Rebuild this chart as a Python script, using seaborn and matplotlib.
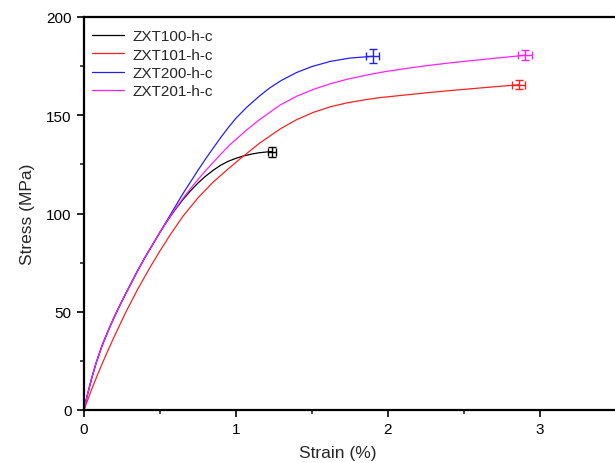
import numpy as np
import pandas as pd
import matplotlib
matplotlib.use("Agg")
import matplotlib.pyplot as plt
from matplotlib.ticker import MultipleLocator
import seaborn as sns

# Stress-strain curves (strain in %, stress in MPa)
zxt100_strain = [0, 0.02, 0.05, 0.08, 0.12, 0.16, 0.2, 0.25, 0.3, 0.35, 0.4, 0.45, 0.5, 0.55,
                 0.6, 0.65, 0.7, 0.75, 0.8, 0.85, 0.9, 0.95, 1.0, 1.05, 1.1, 1.15, 1.2, 1.235]
zxt100_stress = [0, 7, 16, 24, 33, 40.5, 47.5, 55.5, 63, 70.5, 77.5, 84, 90.5, 96.5,
                 102, 107, 111.5, 115.5, 119, 122, 124.6, 126.6, 128.1, 129.3, 130.2, 130.9, 131.3, 131.5]

zxt101_strain = [0, 0.05, 0.1, 0.15, 0.2, 0.27, 0.35, 0.43, 0.5, 0.57, 0.65, 0.75, 0.85, 0.95,
                 1.03, 1.15, 1.29, 1.4, 1.51, 1.62, 1.73, 1.85, 1.95, 2.1, 2.25, 2.4, 2.55,
                 2.7, 2.86]
zxt101_stress = [0, 10.5, 20, 29, 37.5, 49, 61, 72, 81, 89.5, 98.5, 108, 116, 122.8,
                 128, 135.5, 143, 147.8, 151.5, 154.3, 156.3, 157.9, 159, 160.2, 161.4, 162.5, 163.5,
                 164.5, 165.5]

zxt200_strain = [0, 0.02, 0.05, 0.08, 0.12, 0.16, 0.2, 0.25, 0.3, 0.35, 0.4, 0.45, 0.5, 0.55,
                 0.6, 0.65, 0.7, 0.75, 0.8, 0.85, 0.9, 0.95, 1.0, 1.07, 1.15, 1.22, 1.3, 1.4,
                 1.5, 1.62, 1.75, 1.9]
zxt200_stress = [0, 7, 16, 24, 33, 40.5, 47.5, 55.5, 63, 70.5, 77.5, 84, 90.5, 97,
                 103.5, 110, 116, 122, 127.8, 133.3, 138.7, 143.8, 148.5, 154, 159.5, 163.8, 167.8, 171.8,
                 174.8, 177.4, 179.1, 180]

zxt201_strain = [0, 0.02, 0.05, 0.08, 0.12, 0.16, 0.2, 0.25, 0.3, 0.35, 0.4, 0.45, 0.5, 0.55,
                 0.6, 0.65, 0.7, 0.75, 0.8, 0.85, 0.9, 0.96, 1.07, 1.15, 1.29, 1.4, 1.51, 1.62,
                 1.73, 1.85, 1.95, 2.1, 2.25, 2.4, 2.55, 2.7, 2.9]
zxt201_stress = [0, 7, 16, 24, 33, 40.5, 47.5, 55.5, 63, 70.5, 77.5, 84, 90.5, 96.5,
                 102.3, 107.6, 112.6, 117.3, 121.8, 126, 130.2, 135, 142.5, 147.5, 155.2, 159.7, 163.2, 166,
                 168.3, 170.3, 171.8, 173.6, 175.2, 176.6, 177.8, 179, 180.5]

# Fracture points with scatter (mean strain, mean stress, strain err, stress err)
samples = ["ZXT100-h-c", "ZXT101-h-c", "ZXT200-h-c", "ZXT201-h-c"]
break_strain = [1.235, 2.86, 1.9, 2.9]
break_stress = [131.5, 165.5, 180, 180.5]
strain_err = [0.027, 0.044, 0.044, 0.046]
stress_err = [2.5, 2.3, 3.5, 2.5]

colors = ["#000000", "#ff2020", "#2020ff", "#ff20ff"]

curves = [
    (zxt100_strain, zxt100_stress),
    (zxt101_strain, zxt101_stress),
    (zxt200_strain, zxt200_stress),
    (zxt201_strain, zxt201_stress),
]
frames = []
for name, (sx, sy) in zip(samples, curves):
    frames.append(pd.DataFrame({"Strain": sx, "Stress": sy, "Sample": name}))
df = pd.concat(frames, ignore_index=True)

sns.set_theme(style="ticks")
plt.rcParams["font.family"] = ["Liberation Sans", "DejaVu Sans"]

fig = plt.figure(figsize=(6.15, 4.64), dpi=100)
ax = fig.add_axes([84 / 615, 1 - 411 / 464, (616 - 84) / 615, (411 - 18) / 464])

sns.lineplot(data=df, x="Strain", y="Stress", hue="Sample", palette=colors,
             sort=False, estimator=None, units="Sample", linewidth=0.9, ax=ax)

for i in range(len(samples)):
    ax.errorbar(break_strain[i], break_stress[i], xerr=strain_err[i], yerr=stress_err[i],
                fmt="none", ecolor=colors[i], elinewidth=1.0, capsize=3, capthick=1.0)

ax.set_xlim(0, 3.5)
ax.set_ylim(0, 200)
ax.xaxis.set_major_locator(MultipleLocator(1))
ax.xaxis.set_minor_locator(MultipleLocator(0.5))
ax.yaxis.set_major_locator(MultipleLocator(50))
ax.yaxis.set_minor_locator(MultipleLocator(25))
ax.tick_params(which="major", direction="out", length=5, width=1.2, labelsize=11,
               colors="black", pad=4)
ax.tick_params(which="minor", direction="out", length=3, width=1.2)
for side in ["left", "bottom", "top"]:
    ax.spines[side].set_linewidth(1.6)
    ax.spines[side].set_color("black")
ax.spines["right"].set_visible(False)

ax.set_xlabel("Strain (%)", fontsize=12.5)
ax.set_ylabel("Stress (MPa)", fontsize=12.5)
ax.xaxis.set_label_coords((338 - 84) / (616 - 84), -0.088)
ax.yaxis.set_label_coords(-0.092, 0.5)

leg = ax.legend(loc="upper left", frameon=False, fontsize=11, handlelength=2.1,
                handletextpad=0.5, labelspacing=0.28, borderaxespad=0.15,
                bbox_to_anchor=(0.0, 0.99))
leg.set_title(None)

fig.savefig("out.png", dpi=100)
